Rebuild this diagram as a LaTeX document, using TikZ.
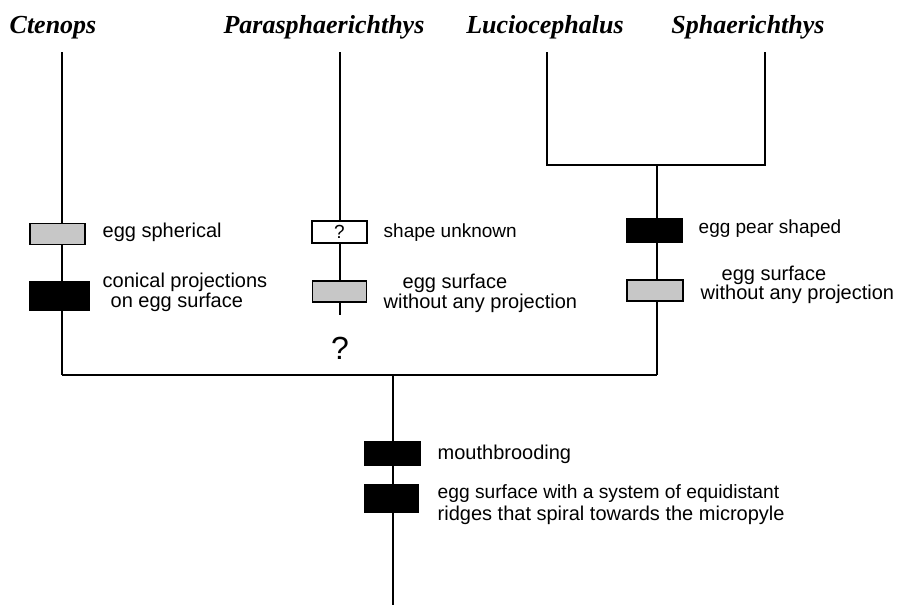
\documentclass[tikz,border=0pt]{standalone}
\usepackage{fontspec}
\setmainfont{Liberation Serif}
\newfontfamily\labfont{Liberation Sans}
\begin{document}
\begin{tikzpicture}[x=1pt,y=-1pt,line width=1.4pt,
  gbox/.style={draw,fill=black!22,inner sep=0pt,line width=1.2pt},
  bbox/.style={draw,fill=black,inner sep=0pt,line width=1.2pt},
  wbox/.style={draw,fill=white,inner sep=0pt,line width=1.2pt,font=\labfont\fontsize{19}{20}\selectfont},
  taxon/.style={anchor=base,inner sep=0pt,font=\fontsize{26}{28}\selectfont\bfseries\itshape},
  lbl/.style={anchor=base west,inner sep=0pt,font=\labfont\fontsize{20}{22}\selectfont},
  qmark/.style={anchor=base,inner sep=0pt,font=\labfont\fontsize{32}{34}\selectfont}
]
\useasboundingbox (0,0) rectangle (913,614);
% taxa
\node[taxon] (ct) at (53,33) {Ctenops};
\node[taxon] (pa) at (324,33) {Parasphaerichthys};
\node[taxon] (lu) at (545,33) {Luciocephalus};
\node[taxon] (sp) at (748,33) {Sphaerichthys};
% coordinates
\coordinate (t1) at (62,52);
\coordinate (t2) at (340,52);
\coordinate (t3) at (547,52);
\coordinate (t4) at (765,52);
\coordinate (j3) at (547,165);
\coordinate (j4) at (765,165);
\coordinate (jc) at (657,165);
\coordinate (b1) at (62,375);
\coordinate (b2) at (657,375);
\coordinate (root) at (393,375);
\coordinate (rend) at (393,605);
\coordinate (pend) at (340,315);
% boxes
\node[gbox,minimum width=55pt,minimum height=21pt] (c1) at (57.5,234) {};
\node[bbox,minimum width=59pt,minimum height=28pt] (c2) at (59.5,296) {};
\node[wbox,minimum width=55pt,minimum height=22pt] (p1) at (339.5,232) {?};
\node[gbox,minimum width=54pt,minimum height=21pt] (p2) at (339.5,291.5) {};
\node[bbox,minimum width=55pt,minimum height=23pt] (s1) at (654.5,230.5) {};
\node[gbox,minimum width=56pt,minimum height=21pt] (s2) at (655,290.5) {};
\node[bbox,minimum width=55pt,minimum height=23pt] (r1) at (392.5,453.5) {};
\node[bbox,minimum width=53pt,minimum height=27pt] (r2) at (391.5,498.5) {};
% lines
\draw (t1) -- (c1.north -| t1);
\draw (c1.south -| t1) -- (c2.north -| t1);
\draw (c2.south -| t1) -- (b1);
\draw (t2) -- (p1.north -| t2);
\draw (p1.south -| t2) -- (p2.north -| t2);
\draw (p2.south -| t2) -- (pend);
\draw (t3) -- (j3) -- (j4) -- (t4);
\draw (jc) -- (s1.north -| jc);
\draw (s1.south -| jc) -- (s2.north -| jc);
\draw (s2.south -| jc) -- (b2);
\draw (b1) -- (b2);
\draw (root) -- (r1.north -| root);
\draw (r1.south -| root) -- (r2.north -| root);
\draw (r2.south -| root) -- (rend);
% labels
\node[lbl] (l1) at (102,237) {egg spherical};
\node[lbl] (l2) at (102,287) {conical projections};
\node[lbl] (l3) at (110,307) {on egg surface};
\node[lbl,font=\labfont\fontsize{19}{21}\selectfont] (l4) at (383,237) {shape unknown};
\node[lbl] (l5) at (402,288) {egg surface};
\node[lbl] (l6) at (383,308) {without any projection};
\node[qmark] (q) at (340,359) {?};
\node[lbl,font=\labfont\fontsize{19}{21}\selectfont] (l7) at (698,233) {egg pear shaped};
\node[lbl] (l8) at (721,280) {egg surface};
\node[lbl] (l9) at (700,299) {without any projection};
\node[lbl] (l10) at (437,459) {mouthbrooding};
\node[lbl,font=\labfont\fontsize{19.2}{21}\selectfont] (l11) at (437,498) {egg surface with a system of equidistant};
\node[lbl] (l12) at (437,520) {ridges that spiral towards the micropyle};
\end{tikzpicture}
\end{document}
